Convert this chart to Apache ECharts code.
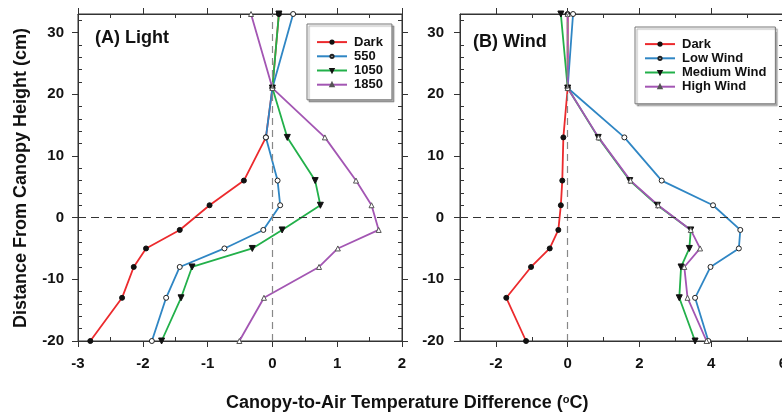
<!DOCTYPE html>
<html>
<head>
<meta charset="utf-8">
<script src="https://cdn.jsdelivr.net/npm/echarts@6/dist/echarts.min.js"></script>
<style>
  html, body { margin: 0; background: #fff; }
  #main { width: 782px; height: 414px; }
</style>
</head>
<body>
<div id="main"></div>
<script>
// heights above canopy (cm), shared by every profile
var heights = [33, 21, 13, 6, 2, -2, -5, -8, -13, -20];

// (A) Light - canopy-to-air temperature difference (C)
var lightDark = [0.10, 0.00, -0.10, -0.44, -0.97, -1.43, -1.95, -2.14, -2.32, -2.81];
var light550  = [0.32, 0.00, -0.10, 0.08, 0.12, -0.14, -0.74, -1.43, -1.64, -1.86];
var light1050 = [0.10, 0.00, 0.23, 0.66, 0.74, 0.15, -0.31, -1.24, -1.41, -1.71];
var light1850 = [-0.33, 0.00, 0.81, 1.29, 1.53, 1.64, 1.01, 0.72, -0.13, -0.51];

// (B) Wind
var windDark   = [0.00, 0.00, -0.12, -0.15, -0.19, -0.26, -0.50, -1.02, -1.71, -1.16];
var windLow    = [0.15, 0.00, 1.58, 2.62, 4.05, 4.81, 4.77, 3.98, 3.55, 3.92];
var windMedium = [-0.19, 0.00, 0.85, 1.73, 2.50, 3.43, 3.39, 3.16, 3.11, 3.55];
var windHigh   = [0.00, 0.00, 0.86, 1.75, 2.52, 3.43, 3.69, 3.25, 3.34, 3.87];

// tick labels
var lightTicks = [-3, -2, -1, 0, 1, 2];
var windTicks = [-2, 0, 2, 4, 6];
var heightTicks = [-20, -10, 0, 10, 20, 30];

var FONT = '"Liberation Sans", Arial, sans-serif';

function pairs(xs) {
  return xs.map(function (x, i) { return [x, heights[i]]; });
}

// minor tick positions: every step between min and max that is not a major tick
function minors(min, max, step, majors) {
  var out = [];
  for (var v = min; v <= max + 1e-9; v += step) {
    var r = Math.round(v * 100) / 100;
    if (majors.indexOf(r) < 0) out.push(r);
  }
  return out;
}

var RED = '#ec2a2d', BLUE = '#2f86c4', GREEN = '#22b04a', PURPLE = '#a356b3';

var markers = {
  dark: { symbol: 'circle', symbolSize: 5, itemStyle: { color: '#111', borderColor: '#111', borderWidth: 1 } },
  open: { symbol: 'circle', symbolSize: 5, itemStyle: { color: '#fff', borderColor: '#222', borderWidth: 1 } },
  down: { symbol: 'triangle', symbolRotate: 180, symbolSize: 6, itemStyle: { color: '#111', borderColor: '#111', borderWidth: 1 } },
  up:   { symbol: 'triangle', symbolSize: 5, itemStyle: { color: '#fff', borderColor: '#555', borderWidth: 1 } }
};

function line(name, data, color, mk, xi, yi) {
  return {
    name: name,
    type: 'line',
    xAxisIndex: xi,
    yAxisIndex: yi,
    data: pairs(data),
    symbol: mk.symbol,
    symbolSize: mk.symbolSize,
    symbolRotate: mk.symbolRotate || 0,
    showAllSymbol: true,
    lineStyle: { color: color, width: 1.8 },
    itemStyle: mk.itemStyle,
    color: color,
    z: 3
  };
}

function refLines() {
  return {
    silent: true,
    symbol: 'none',
    label: { show: false },
    data: [
      { xAxis: 0, lineStyle: { color: '#888', type: [7, 5], width: 1.2 } },
      { yAxis: 0, lineStyle: { color: '#333', type: [8, 5], width: 1.2 } }
    ]
  };
}

var tickLabel = { color: '#111', fontFamily: FONT, fontWeight: 'bold', fontSize: 15 };

// a major axis (outward ticks, optional labels) plus a minor one (inward ticks)
function axes(grid, pos, min, max, majorTicks, minorTicks, labelMargin) {
  var major = {
    type: 'value', gridIndex: grid, min: min, max: max, position: pos,
    axisLine: { show: true, onZero: false, lineStyle: { color: '#333' } },
    axisTick: { show: true, inside: false, length: 6, customValues: majorTicks, lineStyle: { color: '#333' } },
    axisLabel: labelMargin
      ? Object.assign({ margin: labelMargin, customValues: majorTicks, hideOverlap: false }, tickLabel)
      : { show: false },
    splitLine: { show: false }
  };
  var minor = {
    type: 'value', gridIndex: grid, min: min, max: max, position: pos,
    axisLine: { show: false, onZero: false },
    axisTick: { show: true, inside: true, length: 4, customValues: minorTicks, lineStyle: { color: '#333' } },
    axisLabel: { show: false },
    splitLine: { show: false }
  };
  return [major, minor];
}

var lightMinor = minors(-3, 2, 0.5, lightTicks);
var windMinor = minors(-3, 6, 1, windTicks);
var heightMinor = minors(-20, 33, 2, heightTicks);

function legend(left, top, names, pad) {
  return {
    left: left, top: top, orient: 'vertical',
    data: names,
    backgroundColor: '#fff',
    borderColor: '#777', borderWidth: 1,
    shadowColor: 'rgba(0,0,0,0.3)', shadowOffsetX: 2, shadowOffsetY: 2, shadowBlur: 1,
    padding: pad,
    itemWidth: 30, itemHeight: 4, itemGap: 0,
    selectedMode: false,
    textStyle: { color: '#111', fontFamily: FONT, fontWeight: 'bold', fontSize: 13, lineHeight: 14.2, padding: [0, 0, 0, 2] }
  };
}

var chart = echarts.init(document.getElementById('main'), null, { renderer: 'canvas' });

var darkA = line('Dark', lightDark, RED, markers.dark, 0, 0);
darkA.markLine = refLines();
var darkB = line('Dark', windDark, RED, markers.dark, 4, 4);
darkB.markLine = refLines();

var titleStyle = { fontFamily: FONT, fontWeight: 'bold', fontSize: 18, color: '#111' };

var option = {
  backgroundColor: '#fff',
  animation: false,
  title: [
    { text: '(A) Light', left: 95, top: 29, padding: 0, textStyle: titleStyle },
    { text: '(B) Wind', left: 473, top: 33, padding: 0, textStyle: titleStyle },
    {
      text: 'Canopy-to-Air Temperature Difference ({sup|o}C)',
      left: 226, top: 394, padding: 0,
      textStyle: Object.assign({
        rich: { sup: { fontFamily: FONT, fontWeight: 'bold', fontSize: 11, color: '#111', verticalAlign: 'top', padding: [0, 0, 8, 0] } }
      }, titleStyle)
    }
  ],
  graphic: [
    {
      type: 'text', x: 21, y: 178, rotation: Math.PI / 2,
      style: {
        text: 'Distance From Canopy Height (cm)', align: 'center', verticalAlign: 'middle',
        fontFamily: FONT, fontWeight: 'bold', fontSize: 18, fill: '#111'
      }
    }
  ],
  grid: [
    { left: 78, top: 14, width: 324, height: 327, show: true, borderColor: '#333', borderWidth: 1, outerBoundsMode: 'none', containLabel: false },
    { left: 460, top: 14, width: 323, height: 327, show: true, borderColor: '#333', borderWidth: 1, outerBoundsMode: 'none', containLabel: false }
  ],
  xAxis: [].concat(
    axes(0, 'bottom', -3, 2, lightTicks, lightMinor, 15),
    axes(0, 'top', -3, 2, lightTicks, lightMinor, 0),
    axes(1, 'bottom', -3, 6, windTicks, windMinor, 15),
    axes(1, 'top', -3, 6, windTicks, windMinor, 0)
  ),
  yAxis: [].concat(
    axes(0, 'left', -20, 33, heightTicks, heightMinor, 14),
    axes(0, 'right', -20, 33, heightTicks, heightMinor, 0),
    axes(1, 'left', -20, 33, heightTicks, heightMinor, 16),
    axes(1, 'right', -20, 33, heightTicks, heightMinor, 0)
  ),
  legend: [
    legend(307, 24, ['Dark', '550', '1050', '1850'], [11, 9, 8, 9]),
    legend(635, 27, ['Dark', 'Low Wind', 'Medium Wind', 'High Wind'], [10, 9, 10, 9])
  ],
  series: [
    darkA,
    line('550', light550, BLUE, markers.open, 0, 0),
    line('1050', light1050, GREEN, markers.down, 0, 0),
    line('1850', light1850, PURPLE, markers.up, 0, 0),
    darkB,
    line('Low Wind', windLow, BLUE, markers.open, 4, 4),
    line('Medium Wind', windMedium, GREEN, markers.down, 4, 4),
    line('High Wind', windHigh, PURPLE, markers.up, 4, 4)
  ]
};

chart.setOption(option);
</script>
</body>
</html>
